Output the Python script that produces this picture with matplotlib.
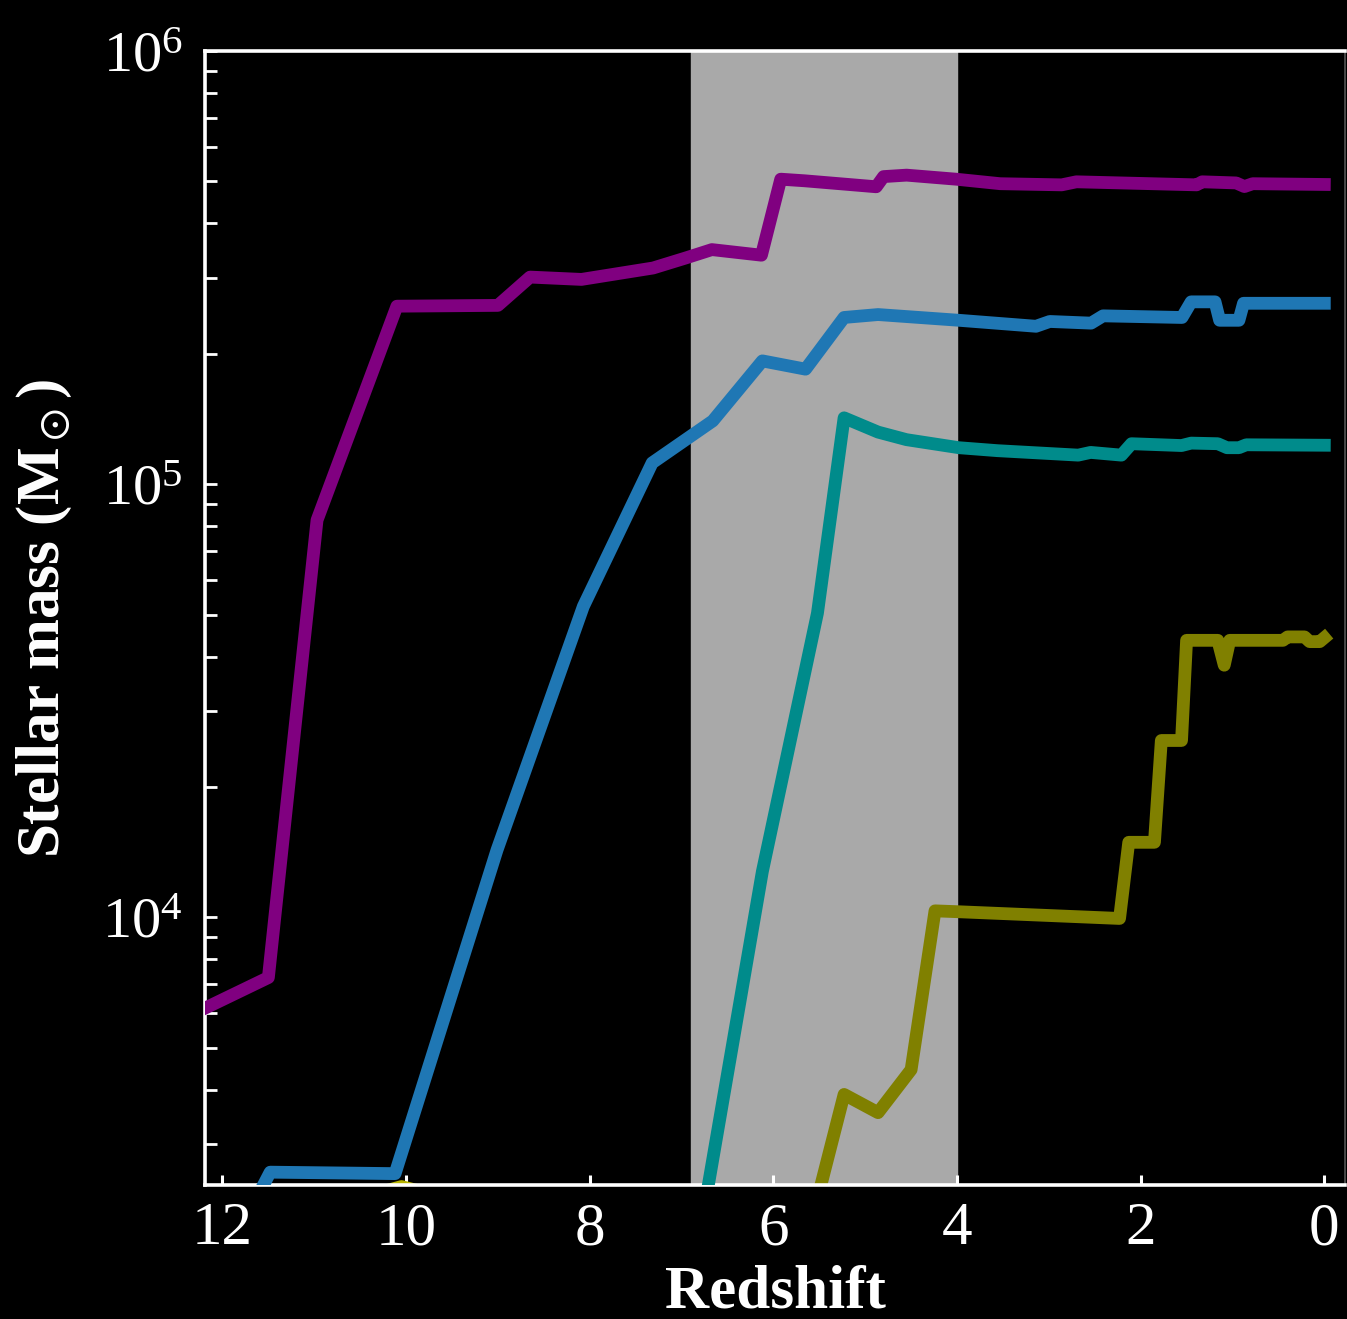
import matplotlib
matplotlib.use("Agg")
import matplotlib.pyplot as plt
from matplotlib.ticker import LogLocator, NullFormatter, FixedLocator

plt.rcParams["font.family"] = "serif"
plt.rcParams["font.serif"] = ["Liberation Serif", "DejaVu Serif"]
plt.rcParams["mathtext.fontset"] = "stix"

# stellar mass growth tracks (redshift, solar masses)
z_purple = [12.19, 11.50, 10.97, 10.10, 9.00, 8.65, 8.09, 7.31, 6.96, 6.67,
            6.13, 5.92, 5.66, 4.88, 4.80, 4.55, 4.01, 3.53, 2.86, 2.70,
            1.39, 1.33, 0.96, 0.87, 0.78, 0.0]
m_purple = [6170, 7260, 82600, 257600, 258700, 300700, 297000, 315600,
            332600, 348000, 337800, 506000, 501700, 486000, 513000, 517000,
            506000, 494000, 491000, 499000, 491000, 499000, 496000, 486500,
            494000, 492000]

z_blue = [11.65, 11.48, 10.12, 9.01, 8.07, 7.32, 6.66, 6.12, 5.65, 5.23,
          4.86, 3.98, 3.14, 2.99, 2.54, 2.41, 1.55, 1.45, 1.19, 1.14, 0.93,
          0.88, 0.0]
m_blue = [2200, 2580, 2560, 14300, 52200, 112000, 140000, 192600, 184300,
          242600, 246400, 239000, 231500, 237500, 235400, 244700, 242600,
          263600, 263600, 239000, 239000, 261600, 261600]

z_teal = [6.90, 6.12, 5.52, 5.23, 4.86, 4.55, 3.98, 3.56, 2.68, 2.545, 2.21,
          2.10, 1.555, 1.45, 1.16, 1.06, 0.93, 0.85, 0.0]
m_teal = [1400, 12760, 50400, 142300, 131900, 126700, 121400, 119500, 116700,
          118400, 116700, 124000, 122800, 124400, 124000, 121400, 121400,
          123300, 123000]

z_olive = [5.70, 5.23, 4.86, 4.50, 4.24, 3.98, 2.23, 2.13, 1.85, 1.775, 1.555,
           1.50, 1.16, 1.09, 1.03, 0.45, 0.40, 0.215, 0.16, 0.05, 0.0]
m_olive = [1590, 3900, 3540, 4450, 10350, 10300, 9940, 14900, 14900, 25600,
           25600, 43600, 43600, 38200, 43600, 43600, 44400, 44400, 43300,
           43300, 44200]

z_yellow = [10.50, 10.05, 9.60]
m_yellow = [2250, 2390, 2260]

# shaded redshift window
band_hi, band_lo = 6.9, 4.0

x_ticks = [12, 10, 8, 6, 4, 2, 0]

fig = plt.figure(figsize=(13.47, 13.19), dpi=100, facecolor="black")
ax = fig.add_axes([0.1522, 0.1016, 0.8463, 0.8597])
ax.set_facecolor("black")

ax.axvspan(band_hi, band_lo, color="darkgray", zorder=0)

lw = 9.2
ax.plot(z_yellow, m_yellow, color="#b8b400", lw=lw, zorder=2)
ax.plot(z_olive, m_olive, color="#808000", lw=lw, zorder=2)
ax.plot(z_teal, m_teal, color="#008b8b", lw=lw, zorder=3)
ax.plot(z_blue, m_blue, color="#1f77b4", lw=lw, zorder=3)
ax.plot(z_purple, m_purple, color="#800080", lw=lw, zorder=3)

ax.set_yscale("log")
ax.set_xlim(12.19, -0.225)
ax.set_ylim(2410, 1e6)

ax.xaxis.set_major_locator(FixedLocator(x_ticks))
ax.yaxis.set_major_locator(LogLocator(base=10))
ax.yaxis.set_minor_locator(LogLocator(base=10, subs=range(2, 10)))
ax.yaxis.set_minor_formatter(NullFormatter())

ax.tick_params(axis="x", which="major", direction="in", length=7, width=2.2,
               colors="white", labelsize=44, pad=12)
ax.tick_params(axis="y", which="both", direction="in", length=8.5, width=2.0,
               colors="white", labelsize=42, pad=16)

for side in ("left", "bottom", "top"):
    ax.spines[side].set_color("white")
    ax.spines[side].set_linewidth(2.6)
ax.spines["right"].set_color("#555555")
ax.spines["right"].set_linewidth(1.2)

ax.set_xlabel("Redshift", fontsize=44, fontweight="bold", color="white",
              labelpad=5)
ax.set_ylabel(r"Stellar mass (M$_\odot$)", fontsize=44, fontweight="bold",
              color="white", labelpad=20)

fig.savefig("out.png", dpi=100, facecolor="black")
